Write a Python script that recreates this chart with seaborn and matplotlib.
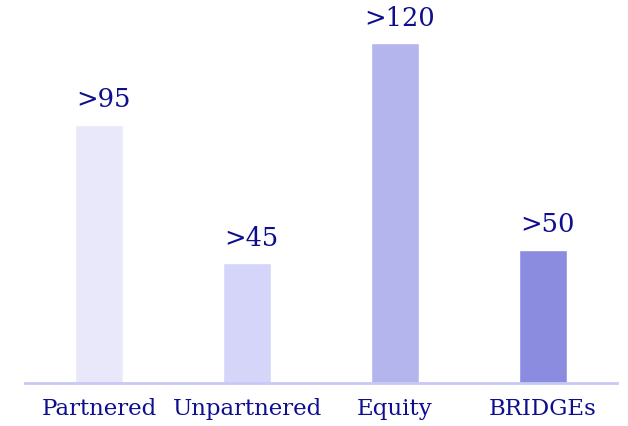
import matplotlib
matplotlib.use("Agg")
import matplotlib.pyplot as plt
import seaborn as sns
import pandas as pd

# data
categories = ["Partnered", "Unpartnered", "Equity", "BRIDGEs"]
values = [95, 44, 125, 49]
value_labels = [">95", ">45", ">120", ">50"]
bar_colors = ["#E8E8FA", "#D4D5F8", "#B5B5EE", "#8B8BDF"]

text_color = "#0E0E8E"
line_color = "#C8C8F4"

df = pd.DataFrame({"category": categories, "value": values})

sns.set_style("white")
plt.rcParams["font.family"] = ["DejaVu Serif"]

fig = plt.figure(figsize=(6.28, 4.26), dpi=100)
ax = fig.add_axes([25 / 628, 43 / 426, 592 / 628, 383 / 426])

sns.barplot(data=df, x="category", y="value", hue="category",
            palette=bar_colors, width=0.318, legend=False, ax=ax,
            saturation=1)

ax.set_xlim(-0.5, 3.5)
ax.set_ylim(0, 383 / 2.72)

# value labels above each bar
for i, (v, lab) in enumerate(zip(values, value_labels)):
    ax.annotate(lab, (i, v), xytext=(3, 9), textcoords="offset points",
                ha="center", va="bottom", fontsize=18.5, color=text_color,
                annotation_clip=False)

for side in ["top", "right", "left"]:
    ax.spines[side].set_visible(False)
ax.spines["bottom"].set_color(line_color)
ax.spines["bottom"].set_linewidth(2)

ax.set_yticks([])
ax.set_xlabel("")
ax.set_ylabel("")
ax.tick_params(axis="x", length=0, pad=11, labelsize=16.5, labelcolor=text_color)

fig.savefig("out.png", dpi=100)
